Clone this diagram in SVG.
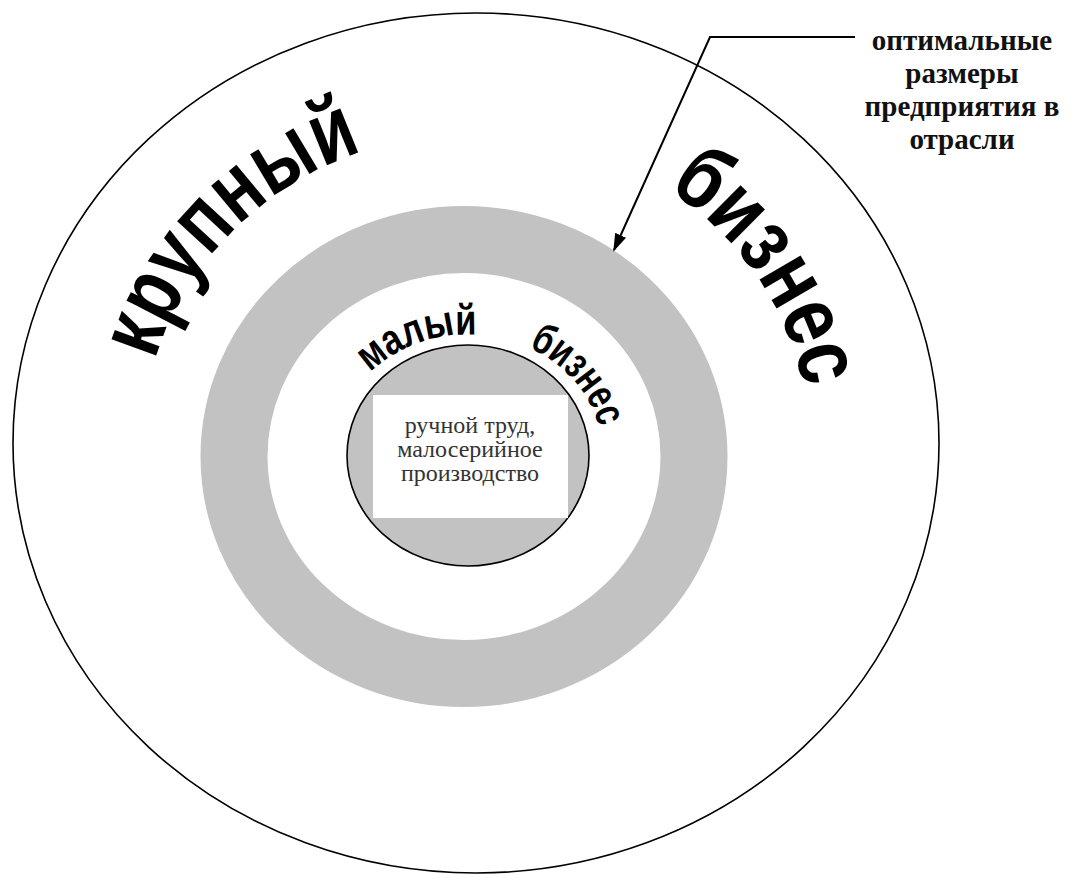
<svg xmlns="http://www.w3.org/2000/svg" width="1077" height="874" viewBox="0 0 1077 874">
  <style>
    .line { stroke: #000; stroke-width: 1.6; }
    .big { font-family: "Liberation Sans", Arial, sans-serif; font-weight: bold; font-size: 90px; fill: #000; }
    .small { font-family: "Liberation Sans", Arial, sans-serif; font-weight: bold; font-size: 43px; fill: #000; }
    .inner { font-family: "Liberation Serif", "Times New Roman", serif; font-size: 24px; fill: #333; text-anchor: middle; }
    .label { font-family: "Liberation Serif", "Times New Roman", serif; font-weight: bold; font-size: 29px; fill: #111; text-anchor: middle; }
  </style>
  <defs>
    <path id="bigArc" d="M143,443 A333,310 0 0 1 809,443"/>
    <path id="smallArc" d="M333,456 A135,121.5 0 0 1 603,456"/>
    <marker id="arrow" viewBox="0 0 10 10" refX="9" refY="5" markerWidth="18" markerHeight="12" markerUnits="userSpaceOnUse" orient="auto" preserveAspectRatio="none">
      <path d="M0,0 L10,5 L0,10 z" fill="#000"/>
    </marker>
  </defs>
  <rect width="1077" height="874" fill="#fff"/>

  <g id="large-business">
    <ellipse cx="476" cy="443" rx="463" ry="430" fill="#fff" class="line"/>
    <text class="big"><textPath href="#bigArc" startOffset="84" textLength="306" lengthAdjust="spacingAndGlyphs">крупный</textPath></text>
    <text class="big"><textPath href="#bigArc" startOffset="707" textLength="248" lengthAdjust="spacingAndGlyphs">бизнес</textPath></text>
  </g>

  <g id="optimal-size-ring">
    <ellipse cx="464" cy="456.5" rx="230" ry="217" fill="none" stroke="#c2c2c2" stroke-width="67"/>
  </g>

  <g id="small-business">
    <ellipse cx="468" cy="455.5" rx="121" ry="110.5" fill="#c2c2c2" class="line"/>
    <text class="small"><textPath href="#smallArc" startOffset="94" textLength="116" lengthAdjust="spacingAndGlyphs">малый</textPath></text>
    <text class="small"><textPath href="#smallArc" startOffset="264" textLength="110" lengthAdjust="spacingAndGlyphs">бизнес</textPath></text>
  </g>

  <g id="manual-labor">
    <rect x="373" y="395" width="195" height="123" fill="#fff"/>
    <text class="inner" x="470" y="433">ручной труд,</text>
    <text class="inner" x="470" y="457">малосерийное</text>
    <text class="inner" x="470" y="481">производство</text>
  </g>

  <g id="label">
    <text class="label" x="962" y="50">оптимальные</text>
    <text class="label" x="962" y="83">размеры</text>
    <text class="label" x="962" y="116">предприятия в</text>
    <text class="label" x="962" y="149">отрасли</text>
  </g>

  <g id="connectors">
    <polyline points="855,37 710,37 614,250" fill="none" stroke="#000" stroke-width="2" marker-end="url(#arrow)"/>
  </g>
</svg>
